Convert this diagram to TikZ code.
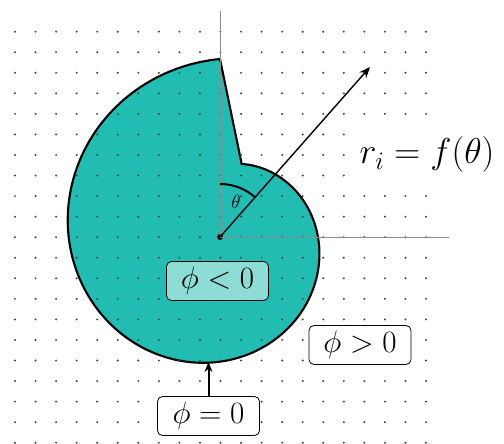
\RequirePackage{fix-cm}
\documentclass[tikz,border=0pt]{standalone}
\usetikzlibrary{arrows.meta}
\definecolor{teal1}{RGB}{34,189,178}
\definecolor{lightteal}{RGB}{160,226,220}
\tikzset{
  gridpt/.style={fill=black!75},
  axisline/.style={draw=black!45, line width=0.7pt},
  lbox/.style={draw=black, line width=0.8pt, rounded corners=5pt, fill=white, minimum width=102pt, minimum height=39pt, inner sep=3pt, font=\fontsize{31}{36}\selectfont},
  radial/.style={-{Stealth[length=11pt,width=9pt]}, line width=1.4pt},
  pointer/.style={-{Stealth[length=10pt,width=8pt]}, line width=2pt},
}
\begin{document}
\begin{tikzpicture}[x=1pt,y=1pt]
\useasboundingbox (0,0) rectangle (504,-444);
\fill[white] (0,0) rectangle (504,-444);
% spiral shape
\filldraw[fill=teal1, draw=black, line width=2.1pt, line join=miter]
  plot[domain=0:343.5, samples=150, smooth] ({220-(178-0.2963*\x)*sin(\x)}, {-237+(178-0.2963*\x)*cos(\x)}) -- cycle;
% dot grid
\foreach \i in {0,...,20} {
  \foreach \j in {0,...,20} {
    \fill[gridpt] ({15+20.55*\i}, {-(31.7+20.55*\j)}) circle (1.1pt);
  }
}
% axes
\coordinate (axtop) at (220,-11);
\coordinate (axright) at (449,-237);
\node[circle, fill=black, inner sep=0pt, minimum size=6pt] (o) at (220,-237) {};
\draw[axisline] (o.center) -- (axtop);
\draw[axisline] (o.center) -- (axright);
% radial arrow
\coordinate (tip) at (370,-67);
\draw[radial] (o.center) -- (tip);
% theta arc
\draw[line width=2pt] (o.center) ++(0,53) arc[start angle=90, end angle=48.6, radius=53pt];
\node[font=\fontsize{19}{22}\selectfont] (th) at (236,-202) {$\theta$};
% formula
\node[fill=white, inner sep=6pt, font=\fontsize{36}{42}\selectfont] (rf) at (427,-155) {$r_i = f(\theta)$};
% labels
\node[lbox, fill=lightteal, fill opacity=0.85, text opacity=1] (lt) at (217.5,-281) {$\phi < 0$};
\node[lbox] (gt) at (360,-345) {$\phi > 0$};
\node[lbox] (eq) at (208.5,-416) {$\phi = 0$};
\coordinate (bot) at (208.5,-362);
\draw[pointer] (eq.north) -- (bot);
\end{tikzpicture}
\end{document}
